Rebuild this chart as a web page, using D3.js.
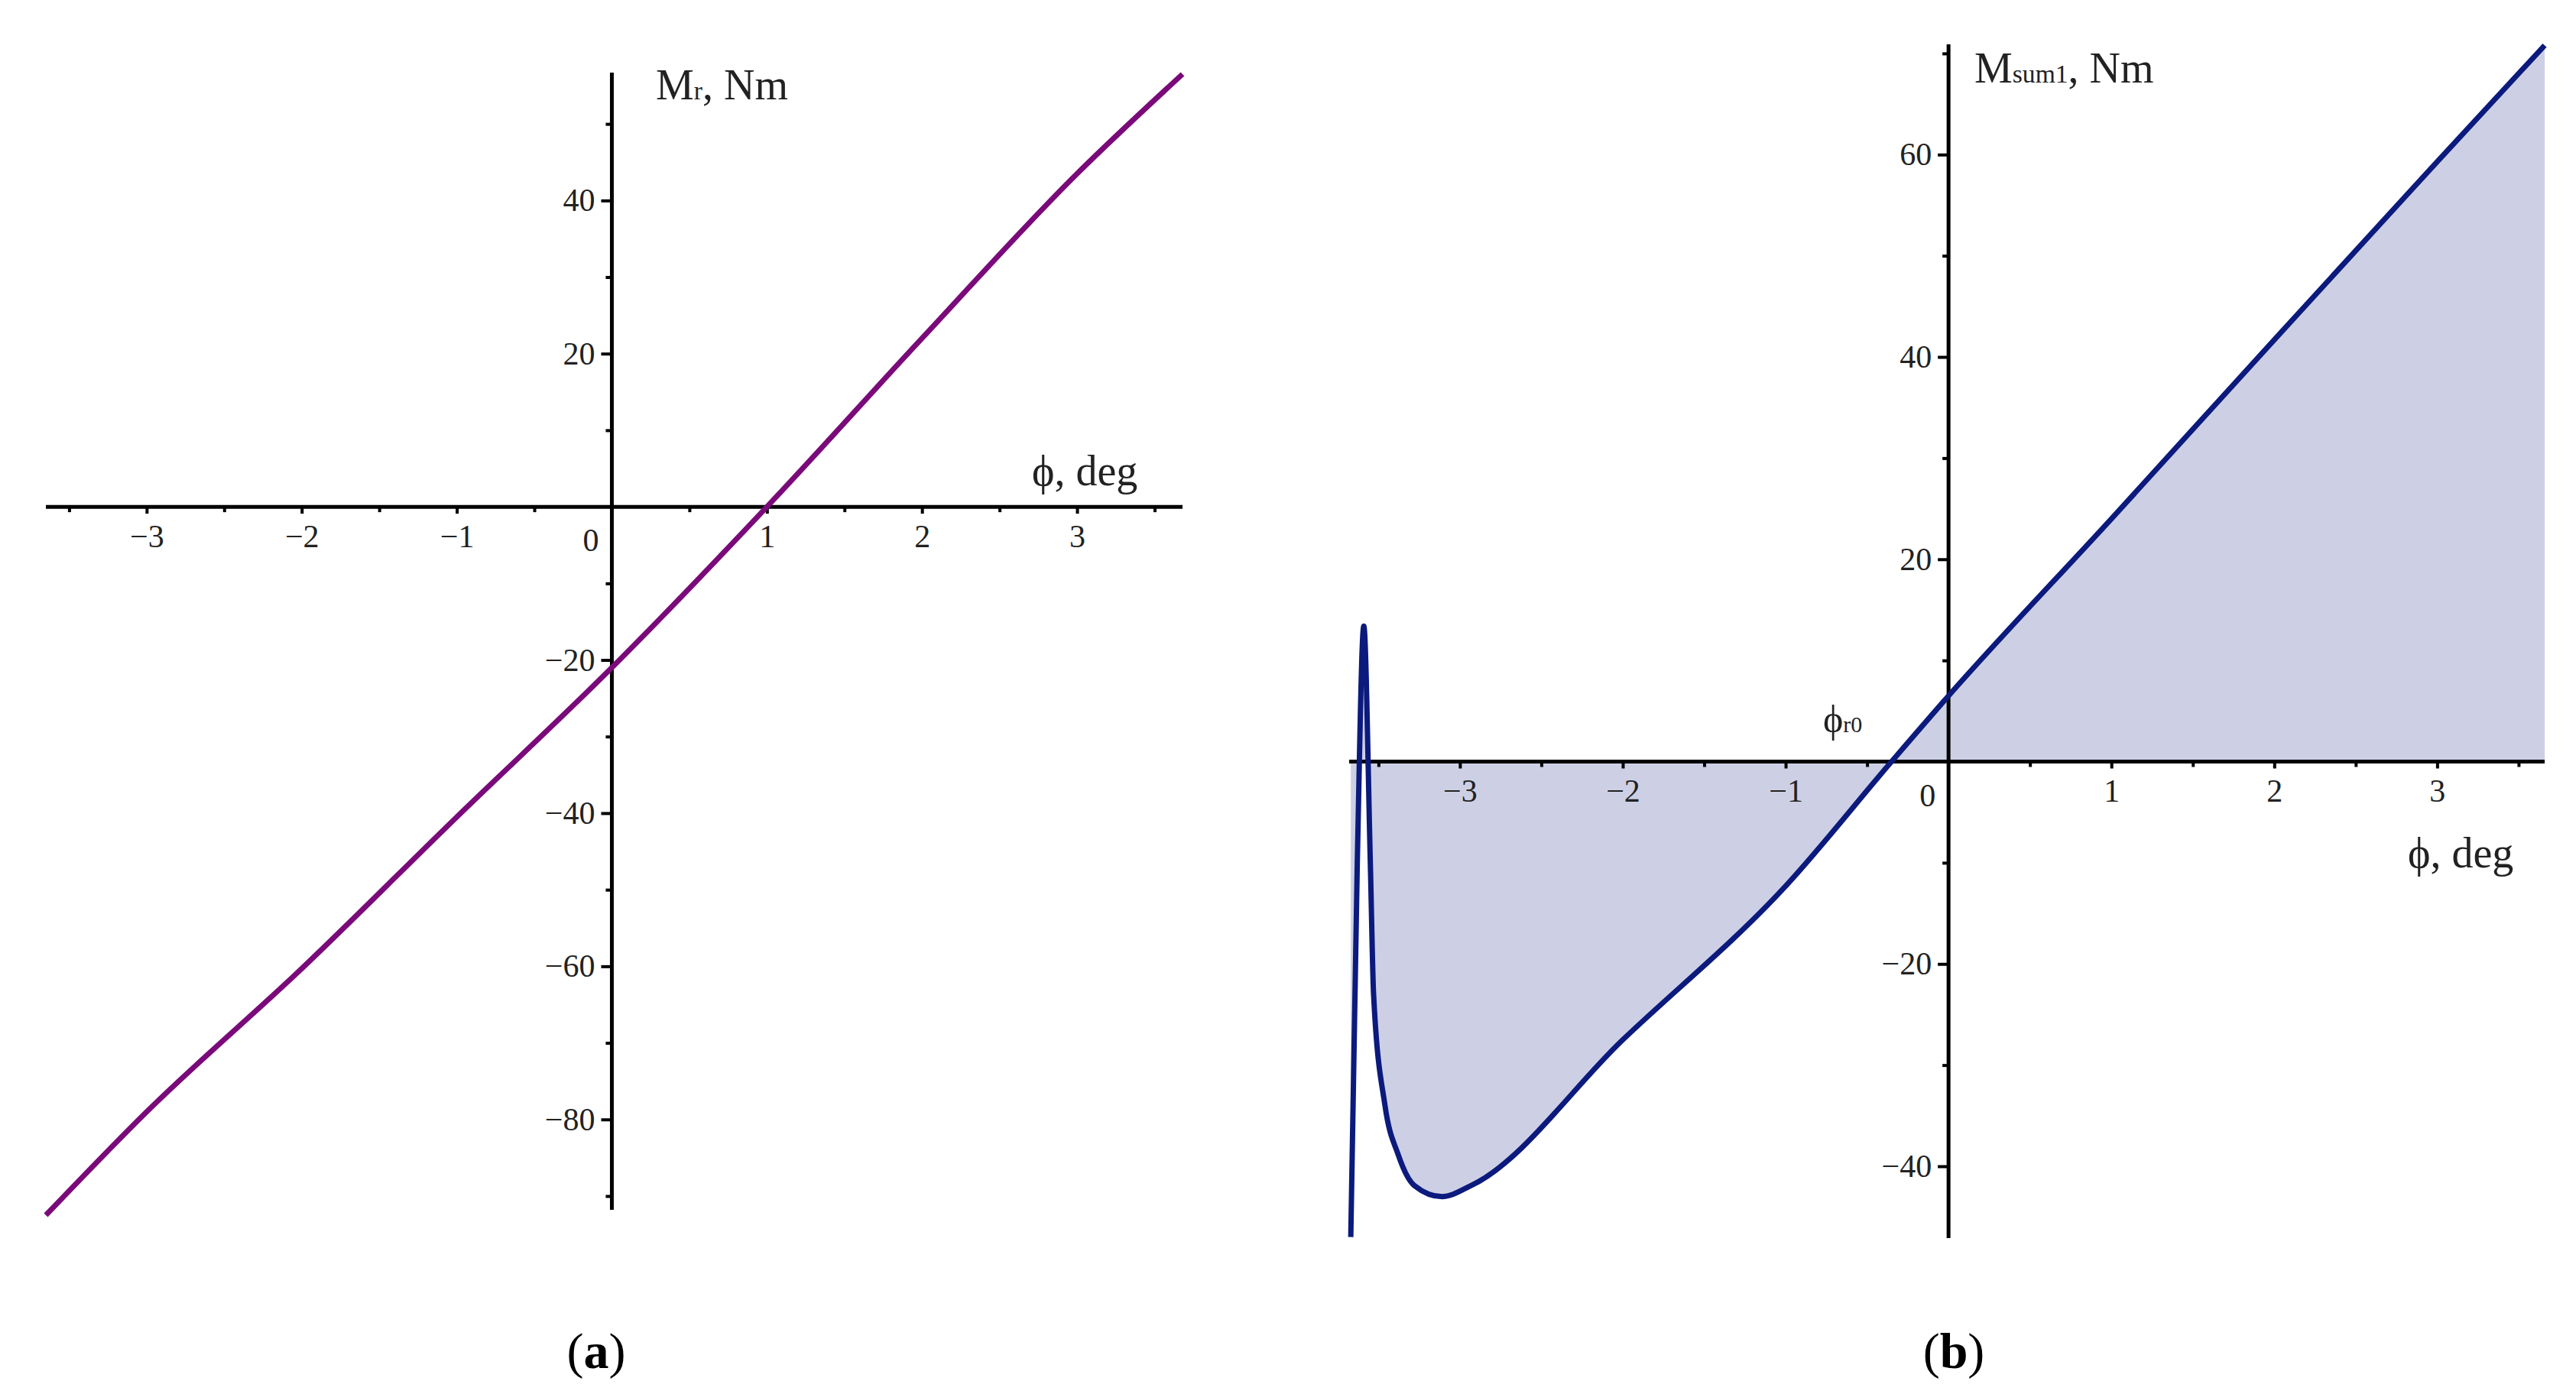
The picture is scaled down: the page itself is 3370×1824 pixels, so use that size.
<!DOCTYPE html>
<html lang="en">
<head>
<meta charset="UTF-8">
<title>Mr and Msum1 vs phi</title>
<script src="https://d3js.org/d3.v7.min.js"></script>
<style>
  body { margin: 0; background: #fff; }
  svg { font-family: "Liberation Serif", "DejaVu Serif", serif; }
</style>
</head>
<body>
<svg id="chart" width="3370" height="1824"></svg>
<script>
// panel (a): Mr vs phi
const phiA = [-3.65, -3, -2, -1, 0, 1, 2, 3, 3.68];
const mrA  = [-92.5, -79, -60.3, -40.5, -21, 0, 22, 43.5, 56.5];
// panel (b): Msum1 vs phi
const phiB = [-3.67, -3.63, -3.59, -3.55, -3.53, -3.46, -3.38, -3.28, -3.11, -2.93, -2, -1, -0.35, 0, 1, 2, 3, 3.66];
const mB   = [-47, -10, 13.4, -10, -23, -34, -38.8, -41.9, -43, -41.9, -27.5, -12.3, 0, 6.5, 24, 41.7, 59.3, 70.8];
const xTicks = [-3, -2, -1, 1, 2, 3];

const svg = d3.select("#chart");
const minus = d => d < 0 ? "\u2212" + Math.abs(d) : d;

function panel(o) {
  const x = d3.scaleLinear().domain(o.xd).range(o.xr);
  const y = d3.scaleLinear().domain(o.yd).range(o.yr);
  const g = svg.append("g");
  const data = o.xs.map((v, i) => [v, o.ys[i]]);

  if (o.fill) {
    g.append("path").datum(data)
      .attr("fill", o.fill)
      .attr("d", d3.area().x(d => x(d[0])).y0(y(0)).y1(d => y(d[1])).curve(d3.curveMonotoneX));
  }

  // x axis
  const xa = g.append("g").attr("transform", `translate(0,${y(0)})`);
  xa.call(d3.axisBottom(x).tickValues(xTicks).tickSize(9).tickPadding(14).tickFormat(minus));
  const xm = g.append("g").attr("transform", `translate(0,${y(0)})`);
  xm.call(d3.axisBottom(x).tickValues(d3.range(-3.5, 3.6, 1)).tickSize(7).tickFormat(() => ""));
  g.append("line").attr("x1", o.xr[0]).attr("x2", o.xr[1]).attr("y1", y(0)).attr("y2", y(0))
    .attr("stroke", "#000").attr("stroke-width", 5);

  // y axis
  const ya = g.append("g").attr("transform", `translate(${x(0)},0)`);
  ya.call(d3.axisLeft(y).tickValues(o.yt).tickSize(14).tickPadding(8).tickFormat(minus));
  const ym = g.append("g").attr("transform", `translate(${x(0)},0)`);
  ym.call(d3.axisLeft(y).tickValues(o.ym).tickSize(8).tickFormat(() => ""));
  g.append("line").attr("x1", x(0)).attr("x2", x(0)).attr("y1", o.yr[0]).attr("y2", o.yr[1])
    .attr("stroke", "#000").attr("stroke-width", 5);

  [xa, xm, ya, ym].forEach(s => {
    s.attr("font-family", null).attr("font-size", 42);
    s.selectAll(".domain").remove();
    s.selectAll("line").attr("stroke", "#000").attr("stroke-width", 4);
    s.selectAll("text").attr("fill", "#222");
  });

  g.append("text").attr("x", x(0) - 38).attr("y", y(0) + 58).attr("font-size", 42).attr("fill", "#222").text("0");

  g.append("path").datum(data)
    .attr("fill", "none").attr("stroke", o.color).attr("stroke-width", 7)
    .attr("d", d3.line().x(d => x(d[0])).y(d => y(d[1])).curve(d3.curveMonotoneX));

  return { x, y, g };
}

panel({
  xd: [-3.65, 3.68], xr: [60, 1547], yd: [-91.8, 56.7], yr: [1583, 95],
  yt: [-80, -60, -40, -20, 20, 40], ym: [-90, -70, -50, -30, -10, 10, 30, 50],
  xs: phiA, ys: mrA, color: "#7a0a7a"
});
panel({
  xd: [-3.68, 3.66], xr: [1765, 3329], yd: [-47.1, 70.9], yr: [1620, 58],
  yt: [-40, -20, 20, 40, 60], ym: [-30, -10, 10, 30, 50, 70],
  xs: phiB, ys: mB, color: "#0b1a7c", fill: "#cdd0e5"
});

function label(x, y, main, sub, rest, size) {
  const t = svg.append("text").attr("x", x).attr("y", y).attr("font-size", size).attr("fill", "#222");
  t.append("tspan").text(main);
  if (sub) t.append("tspan").attr("font-size", size * 0.6).text(sub);
  if (rest) t.append("tspan").text(rest);
}
label(858, 130, "M", "r", ", Nm", 56);
label(1350, 635, "\u03d5", "", ", deg", 56);
label(2583, 108, "M", "sum1", ", Nm", 56);
label(3150, 1135, "\u03d5", "", ", deg", 56);
label(2385, 958, "\u03d5", "r0", "", 50);

svg.append("text").attr("x", 780).attr("y", 1790).attr("text-anchor", "middle").attr("font-size", 66).attr("fill", "#000")
  .html("(<tspan font-weight='bold'>a</tspan>)");
svg.append("text").attr("x", 2556).attr("y", 1790).attr("text-anchor", "middle").attr("font-size", 66).attr("fill", "#000")
  .html("(<tspan font-weight='bold'>b</tspan>)");
</script>
</body>
</html>
